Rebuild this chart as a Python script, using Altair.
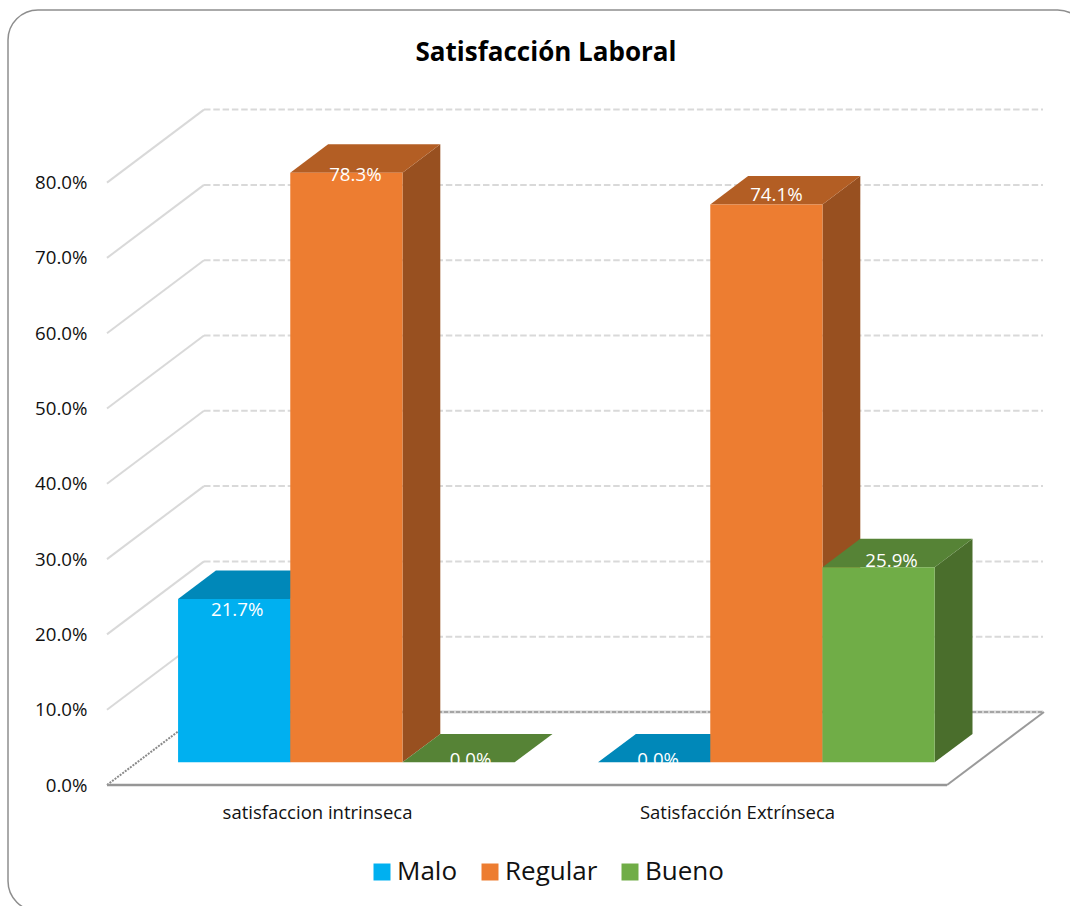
import altair as alt
import pandas as pd

# Chart values
categories = ["satisfaccion intrinseca", "Satisfacción Extrínseca"]
series = ["Malo", "Regular", "Bueno"]
values = {
    "Malo": [0.217, 0.0],
    "Regular": [0.783, 0.741],
    "Bueno": [0.0, 0.259],
}
front_colors = ["#00B0F0", "#ED7D31", "#70AD47"]
top_colors = ["#0088B9", "#B35E24", "#568336"]
side_colors = ["#00739C", "#985020", "#4A6E2C"]
tick_values = [0.0, 0.1, 0.2, 0.3, 0.4, 0.5, 0.6, 0.7, 0.8]

# Oblique projection of the 3D box, in pixels per unit
PX_PER_CATEGORY = 420
PX_PER_FRACTION = 753
PLOT_W, PLOT_H = 936, 675
DEPTH_X = 97 / PX_PER_CATEGORY   # full floor depth, horizontal component
DEPTH_Y = 73 / PX_PER_FRACTION   # full floor depth, vertical component
BAR_FRONT = 0.31                 # bars start this far back on the floor
BAR_DEPTH = 0.39                 # and are this deep
BAR_W = 112.2 / PX_PER_CATEGORY
BAR_SHIFT = -0.7 / PX_PER_CATEGORY

x_max = PLOT_W / PX_PER_CATEGORY
y_max = PLOT_H / PX_PER_FRACTION
x_scale = alt.Scale(domain=[0, x_max], nice=False, zero=False)
y_scale = alt.Scale(domain=[0, y_max], nice=False, zero=False)
floor_right = len(categories)

# Data labels sit a little off the bar centre: (px right, px down)
label_nudge = {
    (0, "Malo"): (3, 11), (0, "Regular"): (9, 2), (0, "Bueno"): (12, -2),
    (1, "Malo"): (4, -2), (1, "Regular"): (10, -9), (1, "Bueno"): (13, -6),
}


def project(x, v, d):
    return x + d * DEPTH_X, v + d * DEPTH_Y


fronts, faces, labels = [], [], []
for c, cat in enumerate(categories):
    left = c + 0.5 - 1.5 * BAR_W + BAR_SHIFT
    for s, name in enumerate(series):
        v = values[name][c]
        xl, xr = left + s * BAR_W, left + (s + 1) * BAR_W
        fx0, base = project(xl, 0, BAR_FRONT)
        fx1, top = project(xr, v, BAR_FRONT)
        bx0, back_top = project(xl, v, BAR_FRONT + BAR_DEPTH)
        bx1, back_base = project(xr, 0, BAR_FRONT + BAR_DEPTH)
        fronts.append({"serie": name, "categoria": cat, "x0": fx0, "x1": fx1,
                       "y0": base, "y1": top})
        if v > 0:
            side_id = f"{c}-{s}-side"
            faces += [
                {"face": side_id, "x": fx1, "lo": base, "hi": top, "fill": side_colors[s]},
                {"face": side_id, "x": bx1, "lo": back_base, "hi": back_top, "fill": side_colors[s]},
            ]
        top_id = f"{c}-{s}-top"
        faces += [
            {"face": top_id, "x": fx0, "lo": top, "hi": top, "fill": top_colors[s]},
            {"face": top_id, "x": bx0, "lo": top, "hi": back_top, "fill": top_colors[s]},
            {"face": top_id, "x": fx1, "lo": top, "hi": back_top, "fill": top_colors[s]},
            {"face": top_id, "x": bx1, "lo": back_top, "hi": back_top, "fill": top_colors[s]},
        ]
        nx, ny = label_nudge[(c, name)]
        labels.append({"valor": v, "lx": (fx0 + fx1) / 2 + nx / PX_PER_CATEGORY,
                       "ly": top - ny / PX_PER_FRACTION})

fronts = pd.DataFrame(fronts)
faces = pd.DataFrame(faces)
labels = pd.DataFrame(labels)

ticks = pd.DataFrame({"v": tick_values})
ticks["vb"] = ticks["v"] + DEPTH_Y
ticks["x0"] = 0.0
ticks["xb"] = DEPTH_X
ticks["xe"] = x_max
raised = ticks[ticks["v"] > 0]
level0 = ticks[ticks["v"] == 0]

label_expr = f"datum.value < 1 ? '{categories[0]}' : '{categories[1]}'"

# One axis definition per direction, shared by every layer
x_axis = alt.Axis(
    values=[0.5, 1.5], labelExpr=label_expr, domain=False, ticks=False, grid=False,
    labelPadding=18, labelFontSize=18.5, labelColor="#111111", labelFont="Open Sans",
    labelAngle=0, labelLimit=320, title=None)
y_axis = alt.Axis(
    values=tick_values, format=".1%", domain=False, ticks=False, grid=False,
    labelPadding=20, labelFontSize=18.7, labelColor="#111111", labelFont="Open Sans",
    title=None)


def X(field):
    return alt.X(field, scale=x_scale, axis=x_axis)


def Y(field):
    return alt.Y(field, scale=y_scale, axis=y_axis)


# Outer rounded frame, unfilled so the axis labels behind it stay visible
frame = alt.Chart(pd.DataFrame({"a": [0]})).mark_rect(
    cornerRadius=30, fill="transparent", stroke="#8e8e8e", strokeWidth=1.5
).encode(
    x=alt.value(8 - 107), x2=alt.value(1087.6 - 107),
    y=alt.value(10 - 110), y2=alt.value(911 - 110),
)

# Side-wall lines and dashed back-wall lines at every tick
wall = alt.Chart(raised).mark_rule(color="#d9d9d9", strokeWidth=2).encode(
    x=X("x0:Q"), x2="xb:Q", y=Y("v:Q"), y2="vb:Q",
)
back = alt.Chart(raised).mark_rule(color="#d9d9d9", strokeWidth=2, strokeDash=[6.5, 2.8]).encode(
    x=X("xb:Q"), x2="xe:Q", y=Y("vb:Q"),
)

# Floor of the box
floor_shape = pd.DataFrame({
    "x": [0, DEPTH_X, floor_right, floor_right + DEPTH_X],
    "lo": [0, 0, 0, DEPTH_Y],
    "hi": [0, DEPTH_Y, DEPTH_Y, DEPTH_Y],
})
floor = alt.Chart(floor_shape).mark_area(color="white", interpolate="linear").encode(
    x=X("x:Q"), y=Y("lo:Q"), y2="hi:Q",
)
back_glow = alt.Chart(level0).mark_rule(color="#d4d4d4", strokeWidth=3).encode(
    x=X("xb:Q"), x2="xe:Q", y=Y("vb:Q"),
)
back_edge = alt.Chart(level0).mark_rule(color="#777777", strokeWidth=1, strokeDash=[4, 2]).encode(
    x=X("xb:Q"), x2="xe:Q", y=Y("vb:Q"),
)
left_edge = alt.Chart(level0).mark_rule(color="#8a8a8a", strokeWidth=2, strokeDash=[2, 1.2]).encode(
    x=X("x0:Q"), x2="xb:Q", y=Y("v:Q"), y2="vb:Q",
)
front_edge = alt.Chart(pd.DataFrame({
    "x": [0.0], "x2": [float(floor_right)], "y": [0.0], "y2": [0.0]
})).mark_rule(color="#969696", strokeWidth=2.5).encode(
    x=X("x:Q"), x2="x2:Q", y=Y("y:Q"), y2="y2:Q",
)
right_edge = alt.Chart(pd.DataFrame({
    "x": [float(floor_right)], "x2": [floor_right + DEPTH_X], "y": [0.0], "y2": [DEPTH_Y]
})).mark_rule(color="#9a9a9a", strokeWidth=2).encode(
    x=X("x:Q"), x2="x2:Q", y=Y("y:Q"), y2="y2:Q",
)

# Side and top faces of each bar, left to right
box_faces = alt.Chart(faces).mark_area(interpolate="linear").encode(
    x=X("x:Q"), y=Y("lo:Q"), y2="hi:Q",
    detail="face:N",
    color=alt.Color("fill:N", scale=None),
)

# Front faces carry the series colours and the legend
box_fronts = alt.Chart(fronts).mark_rect().encode(
    x=X("x0:Q"), x2="x1:Q", y=Y("y0:Q"), y2="y1:Q",
    color=alt.Color("serie:N", scale=alt.Scale(domain=series, range=front_colors),
                    sort=series, title=None, legend=alt.Legend(
        orient="none", legendX=262, legendY=749, direction="horizontal", columns=3,
        symbolType="square", symbolSize=289, symbolStrokeWidth=0, symbolOpacity=1,
        labelFontSize=26, labelFont="Open Sans", labelColor="#111111", labelOffset=2,
        columnPadding=19, padding=0)),
)

value_labels = alt.Chart(labels).mark_text(
    color="white", fontSize=18.7, font="Open Sans", align="center", baseline="middle"
).encode(
    x=X("lx:Q"), y=Y("ly:Q"),
    text=alt.Text("valor:Q", format=".1%"),
)

chart = alt.layer(
    frame, wall, back, floor, back_glow, back_edge, left_edge, front_edge, right_edge,
    box_faces, box_fronts, value_labels,
).resolve_scale(color="independent").properties(
    width=PLOT_W,
    height=PLOT_H,
    padding={"left": 107, "top": 110, "right": 27, "bottom": 121},
    autosize=alt.AutoSizeParams(type="none"),
    background="white",
    title=alt.TitleParams(
        "Satisfacción Laboral", fontSize=26, font="Open Sans", fontWeight="bold",
        color="#000000", anchor="middle", dx=-29, offset=-57,
    ),
).configure_view(stroke=None)

chart.save("out.html", embed_options={"renderer": "svg", "actions": False})
